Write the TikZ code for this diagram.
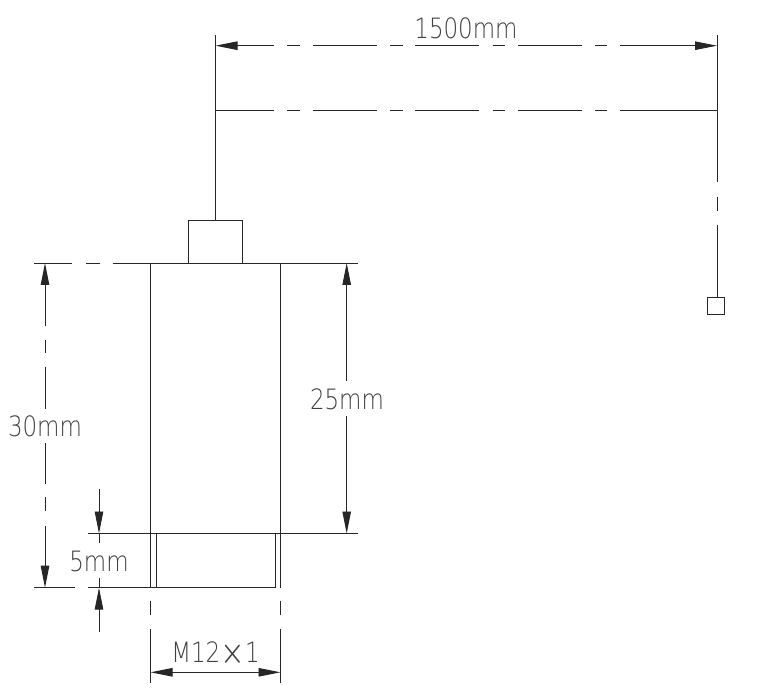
\documentclass[tikz,border=0pt]{standalone}
\usepackage{fontspec}
\usepackage{tikz}
\usetikzlibrary{arrows.meta}
\newfontfamily\cadfont[FakeStretch=0.82]{DejaVu Sans ExtraLight}
\tikzset{
  dimtext/.style={font=\cadfont\fontsize{28}{28}\selectfont, text=black!75, inner sep=0pt},
  dimtip/.style={-{Triangle[length=22pt,width=8.5pt]}},
}
\begin{document}
\begin{tikzpicture}[x=1pt,y=-1pt,line width=0.95pt,black!85]
            \useasboundingbox (0,0) rectangle (778,700);
            % cable
            \draw (215.5,35) -- (215.5,220);
            \draw (717,35) -- (717,182.5);
            \draw (717,197) -- (717,211);
            \draw (717,225) -- (717,297);
            \draw (707.7,297) rectangle (724.7,314);
            \foreach \y in {45.7,110.3} {
                \foreach \a/\b in {287/300,312.7/376.7,390/402.7,415/479,492.7/505,518/582,595/607} {
                    \draw (\a,\y) -- (\b,\y);
                }
            }
            \draw (215.5,110.3) -- (274,110.3);
            \draw (620,110.3) -- (717,110.3);
            \draw[dimtip] (274,45.7) -- (215.5,45.7);
            \draw[dimtip] (620,45.7) -- (717,45.7);
            \node[dimtext] (lengthlabel) at (466,28) {1500mm};
            % sensor body
            \draw (188.3,263) rectangle (242.7,220);
            \draw (150.5,263) -- (150.5,587.7);
            \draw (280.5,263) -- (280.5,587.7);
            \draw (156.3,533.5) -- (156.3,587.7);
            \draw (275,533.5) -- (275,587.7);
            \draw (88,533.5) -- (358,533.5);
            \draw (88,587.7) -- (275,587.7);
            \draw (34,587.7) -- (75,587.7);
            \draw (34,263) -- (72,263);
            \draw (86,263) -- (100,263);
            \draw (113,263) -- (358,263);
            % 25mm
            \draw[dimtip] (346.7,380.7) -- (346.7,263);
            \draw[dimtip] (346.7,416) -- (346.7,533.5);
            \node[dimtext] (bodylabel) at (347,399) {25mm};
            % 30mm
            \draw[dimtip] (45,326) -- (45,263);
            \draw (45,340) -- (45,352.7);
            \draw (45,366.7) -- (45,409);
            \draw (45,443) -- (45,483.7);
            \draw (45,497) -- (45,511);
            \draw[dimtip] (45,526) -- (45,587.7);
            \node[dimtext] (totallabel) at (45,426) {30mm};
            % 5mm
            \draw[dimtip] (99,489) -- (99,533.5);
            \draw (99,533.5) -- (99,543);
            \draw[dimtip] (99,631.7) -- (99,587.7);
            \draw (99,587.7) -- (99,578);
            \node[dimtext] (threadlabel) at (99,561) {5mm};
            % M12
            \foreach \x in {150.5,280.5} {
                \draw (\x,600.7) -- (\x,615);
                \draw (\x,629) -- (\x,683);
            }
            \draw[dimtip] (215.5,672.3) -- (150.5,672.3);
            \draw[dimtip] (215.5,672.3) -- (280.5,672.3);
            \node[dimtext] (sizelabel) at (215.5,654) {M12\raisebox{-3pt}{\fontsize{36}{36}\selectfont ×}1};
        \end{tikzpicture}
\end{document}
